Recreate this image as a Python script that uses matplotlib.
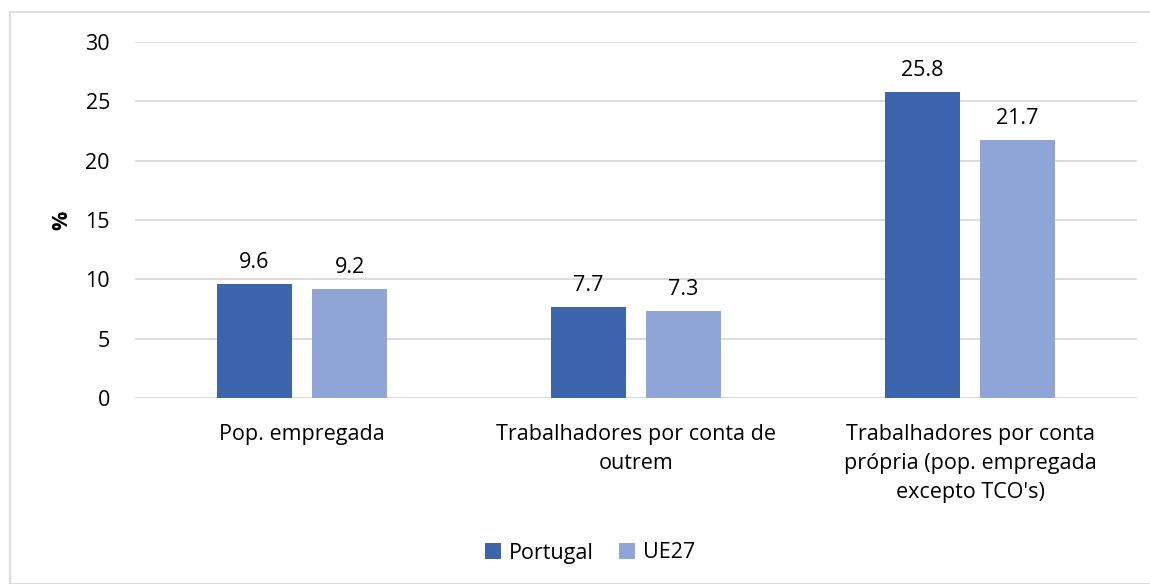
import matplotlib
matplotlib.use("Agg")
import matplotlib.pyplot as plt
from matplotlib.patches import Rectangle
import numpy as np

plt.rcParams['font.family'] = ['Open Sans', 'DejaVu Sans']

categories = ["Pop. empregada",
              "Trabalhadores por conta de\noutrem",
              "Trabalhadores por conta\nprópria (pop. empregada\nexcepto TCO's)"]
series_names = ["Portugal", "UE27"]
portugal = [9.6, 7.7, 25.8]
ue27 = [9.2, 7.3, 21.7]
yticks = [0, 5, 10, 15, 20, 25, 30]

colors = ["#3D65AD", "#8FA5D5"]
grid_color = "#D9D9D9"
fs = 15.5

W, H = 1150, 584
fig = plt.figure(figsize=(W / 100, H / 100), dpi=100)
ax = fig.add_axes([135 / W, 1 - 398 / H, (1137 - 135) / W, (398 - 42) / H])

x = np.arange(len(categories))
bw = 0.225
off = 0.1425
for vals, dx, col, name in [(portugal, -off, colors[0], series_names[0]),
                            (ue27, off, colors[1], series_names[1])]:
    bars = ax.bar(x + dx, vals, width=bw, color=col, label=name, zorder=3)
    for b, v in zip(bars, vals):
        ax.annotate(f"{v:.1f}", (b.get_x() + b.get_width() / 2, v),
                    xytext=(0, 8), textcoords="offset points",
                    ha="center", va="bottom", fontsize=fs, color="#000000")

ax.set_xlim(-0.5, 2.5)
ax.set_ylim(0, 30)
ax.set_yticks(yticks)
ax.set_yticklabels([str(t) for t in yticks], fontsize=fs)
ax.set_xticks(x)
ax.set_xticklabels(categories, fontsize=fs, linespacing=1.5, va="top")
ax.tick_params(axis="both", length=0)
ax.tick_params(axis="y", pad=18)
ax.tick_params(axis="x", pad=19)
ax.yaxis.grid(True, color=grid_color, linewidth=1.3, zorder=0)
for s in ax.spines.values():
    s.set_visible(False)
ax.axhline(0, color=grid_color, linewidth=1.3, zorder=2)

fig.text(62 / W, 1 - 220 / H, "%", rotation=90, fontsize=fs, fontweight="bold",
         ha="center", va="center")

leg = fig.legend(loc="center", bbox_to_anchor=(590 / W, 1 - 553 / H), ncol=2,
                 frameon=False, fontsize=fs, handlelength=0.75, handleheight=0.75,
                 handletextpad=0.35, columnspacing=1.2)

fig.add_artist(Rectangle((10 / W, 0), 1.2, 1 - 12 / H, transform=fig.transFigure,
                         fill=False, edgecolor=grid_color, linewidth=1.3))

fig.savefig("out.png", dpi=100)
